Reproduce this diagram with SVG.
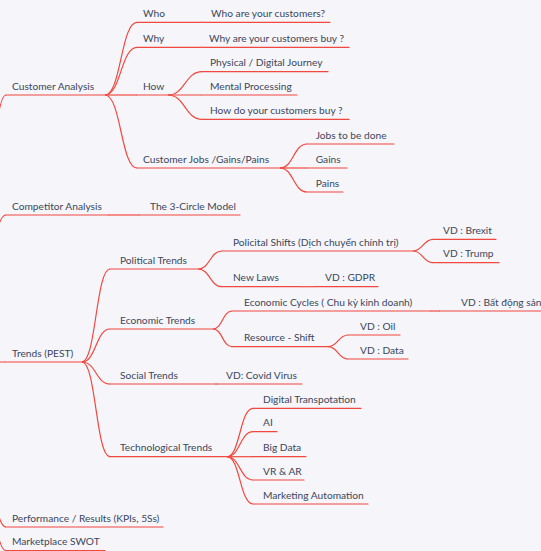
<svg xmlns="http://www.w3.org/2000/svg" width="541" height="551" viewBox="0 0 541 551">
<style>
.t{font-family:Lato,"Noto Sans","DejaVu Sans",sans-serif;font-size:10.2px;fill:#3c475b}
.u{stroke:#f1493f;stroke-width:1.2;fill:none;stroke-linecap:round}
.c{stroke:#f1493f;stroke-width:1.2;fill:none}
</style>
<rect width="541" height="551" fill="#f5f5fa"/>
<g id="connectors">
<path class="c" d="M-30 362C-12 362 -12 95 6 95"/>
<path class="c" d="M-30 362C-12 362 -12 215 6 215"/>
<path class="c" d="M-30 362L6 362"/>
<path class="c" d="M-30 362C-12 362 -12 527 6 527"/>
<path class="c" d="M-30 362C-12 362 -12 550.5 6 550.5"/>
<path class="c" d="M105 95C121 95 121 22.3 137 22.3"/>
<path class="c" d="M105 95C121 95 121 47.3 137 47.3"/>
<path class="c" d="M105 95L137 95"/>
<path class="c" d="M105 95C121 95 121 168 137 168"/>
<path class="c" d="M200 22.3L205 22.3"/>
<path class="c" d="M200 47.3L203 47.3"/>
<path class="c" d="M168 95C185 95 185 71.7 202 71.7"/>
<path class="c" d="M168 95L202 95"/>
<path class="c" d="M168 95C185 95 185 119.3 202 119.3"/>
<path class="c" d="M280 168C293.5 168 293.5 144 307 144"/>
<path class="c" d="M280 168L307 168"/>
<path class="c" d="M280 168C293.5 168 293.5 192 307 192"/>
<path class="c" d="M108 215L140 215"/>
<path class="c" d="M82 362C96 362 96 269 110 269"/>
<path class="c" d="M82 362C96 362 96 329 110 329"/>
<path class="c" d="M82 362C96 362 96 384 110 384"/>
<path class="c" d="M82 362C96 362 96 456.7 110 456.7"/>
<path class="c" d="M198 269C210 269 210 251 222 251"/>
<path class="c" d="M198 269C210 269 210 286.7 222 286.7"/>
<path class="c" d="M413 251C423 251 423 239.3 433 239.3"/>
<path class="c" d="M413 251C423 251 423 262.7 433 262.7"/>
<path class="c" d="M300 286.7L315 286.7"/>
<path class="c" d="M213 329C222.5 329 222.5 311 232 311"/>
<path class="c" d="M213 329C222.5 329 222.5 346.7 232 346.7"/>
<path class="c" d="M430 311L440 311"/>
<path class="c" d="M328 346.7C338 346.7 338 335 348 335"/>
<path class="c" d="M328 346.7C338 346.7 338 359 348 359"/>
<path class="c" d="M215 384L218 384"/>
<path class="c" d="M227 456.7C240 456.7 240 408.3 253 408.3"/>
<path class="c" d="M227 456.7C240 456.7 240 431.7 253 431.7"/>
<path class="c" d="M227 456.7L253 456.7"/>
<path class="c" d="M227 456.7C240 456.7 240 480 253 480"/>
<path class="c" d="M227 456.7C240 456.7 240 504 253 504"/>
</g>
<g id="customer-analysis"><path class="u" d="M6 95H105"/><text class="t" x="12" y="89.5">Customer Analysis</text></g>
<g id="who"><path class="u" d="M137 22.3H200"/><text class="t" x="143" y="17">Who</text></g>
<g id="who-are"><path class="u" d="M205 22.3H330"/><text class="t" x="211" y="17">Who are your customers?</text></g>
<g id="why"><path class="u" d="M137 47.3H200"/><text class="t" x="143" y="42">Why</text></g>
<g id="why-buy"><path class="u" d="M203 47.3H349"/><text class="t" x="209" y="42">Why are your customers buy ?</text></g>
<g id="how"><path class="u" d="M137 95H168"/><text class="t" x="143" y="89.5">How</text></g>
<g id="physical"><path class="u" d="M202 71.7H328"/><text class="t" x="210" y="66.2">Physical / Digital Journey</text></g>
<g id="mental"><path class="u" d="M202 95H297"/><text class="t" x="210" y="89.5">Mental Processing</text></g>
<g id="how-do"><path class="u" d="M202 119.3H349"/><text class="t" x="210" y="113.8">How do your customers buy ?</text></g>
<g id="jobs-gains-pains"><path class="u" d="M137 168H280"/><text class="t" x="143" y="162.5">Customer Jobs /Gains/Pains</text></g>
<g id="jobs"><path class="u" d="M307 144H394"/><text class="t" x="315.7" y="138.5">Jobs to be done</text></g>
<g id="gains"><path class="u" d="M307 168H347"/><text class="t" x="315.7" y="162.5">Gains</text></g>
<g id="pains"><path class="u" d="M307 192H343"/><text class="t" x="315.7" y="186.5">Pains</text></g>
<g id="competitor-analysis"><path class="u" d="M6 215H108"/><text class="t" x="12" y="209.5">Competitor Analysis</text></g>
<g id="three-circle"><path class="u" d="M140 215H240"/><text class="t" x="150" y="209.5">The 3-Circle Model</text></g>
<g id="trends"><path class="u" d="M6 362H82"/><text class="t" x="12" y="356.5">Trends (PEST)</text></g>
<g id="political"><path class="u" d="M110 269H198"/><text class="t" x="120" y="263.5">Political Trends</text></g>
<g id="political-shifts"><path class="u" d="M222 251H413"/><text class="t" x="233" y="245.5">Policital Shifts (Dịch chuyển chính trị)</text></g>
<g id="brexit"><path class="u" d="M433 239.3H496"/><text class="t" x="443" y="233.8">VD : Brexit</text></g>
<g id="trump"><path class="u" d="M433 262.7H499"/><text class="t" x="443" y="257.2">VD : Trump</text></g>
<g id="new-laws"><path class="u" d="M222 286.7H300"/><text class="t" x="233" y="281.2">New Laws</text></g>
<g id="gdpr"><path class="u" d="M315 286.7H378"/><text class="t" x="325" y="281.2">VD : GDPR</text></g>
<g id="economic"><path class="u" d="M110 329H213"/><text class="t" x="120" y="323.5">Economic Trends</text></g>
<g id="economic-cycles"><path class="u" d="M232 311H430"/><text class="t" x="244" y="305.5">Economic Cycles ( Chu kỳ kinh doanh)</text></g>
<g id="bat-dong-san"><path class="u" d="M440 311H541"/><text class="t" x="461" y="305.5">VD : Bất động sản</text></g>
<g id="resource-shift"><path class="u" d="M232 346.7H328"/><text class="t" x="244" y="341.2">Resource - Shift</text></g>
<g id="oil"><path class="u" d="M348 335H400"/><text class="t" x="360" y="329.5">VD : Oil</text></g>
<g id="data"><path class="u" d="M348 359H408"/><text class="t" x="360" y="353.5">VD : Data</text></g>
<g id="social"><path class="u" d="M110 384H215"/><text class="t" x="120" y="378.5">Social Trends</text></g>
<g id="covid"><path class="u" d="M218 384H302"/><text class="t" x="226" y="378.5">VD: Covid Virus</text></g>
<g id="technological"><path class="u" d="M110 456.7H227"/><text class="t" x="120" y="451.2">Technological Trends</text></g>
<g id="digital-transport"><path class="u" d="M253 408.3H361"/><text class="t" x="263" y="402.8">Digital Transpotation</text></g>
<g id="ai"><path class="u" d="M253 431.7H277"/><text class="t" x="263" y="426.2">AI</text></g>
<g id="big-data"><path class="u" d="M253 456.7H306"/><text class="t" x="263" y="451.2">Big Data</text></g>
<g id="vr-ar"><path class="u" d="M253 480H304"/><text class="t" x="263" y="474.5">VR &amp; AR</text></g>
<g id="marketing-automation"><path class="u" d="M253 504H368"/><text class="t" x="263" y="498.5">Marketing Automation</text></g>
<g id="performance"><path class="u" d="M6 527H163"/><text class="t" x="12" y="521.5">Performance / Results (KPIs, 5Ss)</text></g>
<g id="swot"><path class="u" d="M6 550.5H105"/><text class="t" x="12" y="545">Marketplace SWOT</text></g>
</svg>
